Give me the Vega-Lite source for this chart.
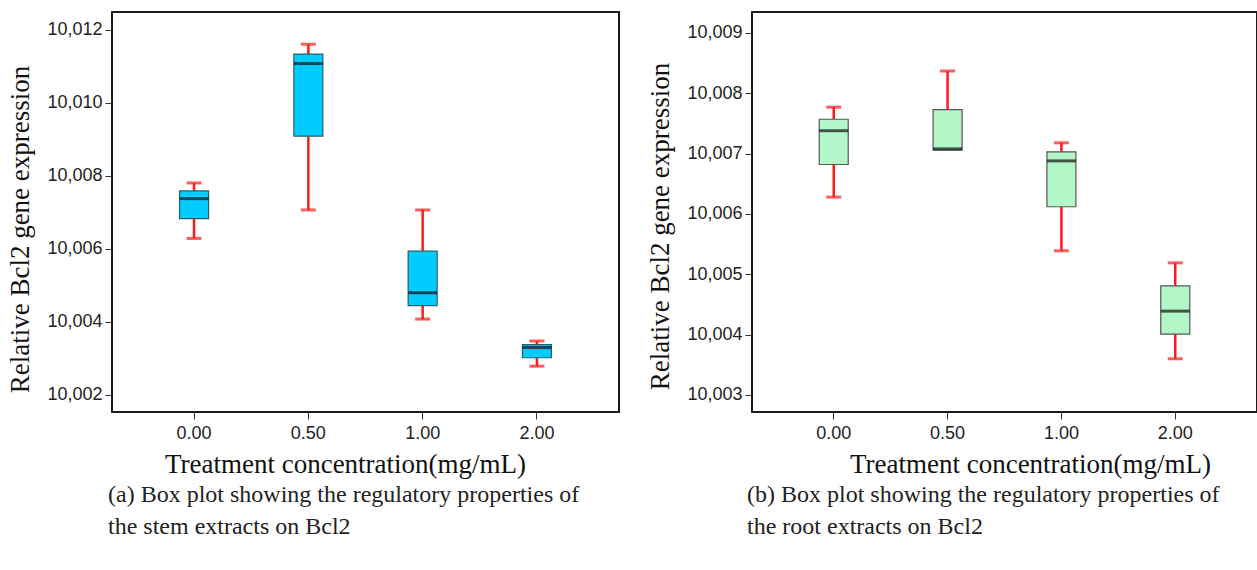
{
  "$schema": "https://vega.github.io/schema/vega-lite/v6.json",
  "padding": {"left": 5, "top": 11, "right": 0, "bottom": 0},
  "background": "white",
  "datasets": {
    "stemData": [
      {"conc": "0.00", "lo": 10.00629, "q1": 10.00683, "med": 10.00738, "q3": 10.00759, "hi": 10.00781},
      {"conc": "0.50", "lo": 10.00707, "q1": 10.00909, "med": 10.01108, "q3": 10.01134, "hi": 10.01161},
      {"conc": "1.00", "lo": 10.00408, "q1": 10.00445, "med": 10.0048, "q3": 10.00594, "hi": 10.00707},
      {"conc": "2.00", "lo": 10.00279, "q1": 10.00302, "med": 10.0033, "q3": 10.00338, "hi": 10.00348}
    ],
    "rootData": [
      {"conc": "0.00", "lo": 10.00628, "q1": 10.00682, "med": 10.00738, "q3": 10.00757, "hi": 10.00777},
      {"conc": "0.50", "lo": null, "q1": 10.00706, "med": 10.00708, "q3": 10.00773, "hi": 10.00837},
      {"conc": "1.00", "lo": 10.00539, "q1": 10.00612, "med": 10.00688, "q3": 10.00703, "hi": 10.00718},
      {"conc": "2.00", "lo": 10.0036, "q1": 10.00401, "med": 10.00439, "q3": 10.00481, "hi": 10.00519}
    ]
  },
  "config": {
    "view": {"stroke": "#1a1a1a", "strokeWidth": 2},
    "axis": {"grid": false, "domain": false, "tickColor": "#333", "labelColor": "#222", "titleColor": "#111", "labelFont": "Liberation Sans", "labelFontSize": 18, "titleFont": "Liberation Serif", "titleFontSize": 27, "titleFontWeight": "normal", "tickSize": 7},
    "axisY": {"labelPadding": 3, "titlePadding": 12},
    "axisX": {"labelPadding": 5, "titlePadding": 9, "labelAngle": 0},
    "title": {"font": "Liberation Serif", "fontSize": 24, "fontWeight": "normal", "color": "#222"}
  },
  "spacing": 25,
  "hconcat": [
    {
      "width": 507,
      "height": 400,
      "data": {"name": "stemData"},
      "title": {"text": ["(a) Box plot showing the regulatory properties of", "the stem extracts on Bcl2"], "orient": "bottom", "anchor": "start", "frame": "group", "offset": 6, "lineHeight": 32, "dx": -4},
      "encoding": {
        "x": {"field": "conc", "type": "nominal", "sort": null, "title": "Treatment concentration(mg/mL)",
          "scale": {"paddingOuter": 0.218, "paddingInner": 0},
          "axis": {"titleX": 233, "titleAlign": "center"}}
      },
      "layer": [
        {"mark": {"type": "rule", "color": "#ff1a1a", "strokeWidth": 2.5},
          "encoding": {"y": {"field": "q3", "type": "quantitative", "title": "Relative Bcl2 gene expression", "scale": {"domain": [10.001534, 10.012493], "nice": false, "zero": false},
            "axis": {"values": [10.002, 10.004, 10.006, 10.008, 10.01, 10.012], "labelExpr": "replace(format(datum.value, '.3f'), '.', ',')", "titleY": 217}},
            "y2": {"field": "hi"}}},
        {"mark": {"type": "rule", "color": "#ff1a1a", "strokeWidth": 2.5},
          "encoding": {"y": {"field": "lo", "type": "quantitative", "title": "Relative Bcl2 gene expression"}, "y2": {"field": "q1"}}},
        {"mark": {"type": "tick", "color": "#ff1a1a", "size": 15, "thickness": 3},
          "encoding": {"y": {"field": "hi", "type": "quantitative", "title": "Relative Bcl2 gene expression"}}},
        {"mark": {"type": "tick", "color": "#ff1a1a", "size": 15, "thickness": 3},
          "encoding": {"y": {"field": "lo", "type": "quantitative", "title": "Relative Bcl2 gene expression"}}},
        {"mark": {"type": "bar", "size": 29, "fill": "#00ccff", "stroke": "#2a5f6e", "strokeWidth": 1.2},
          "encoding": {"y": {"field": "q1", "type": "quantitative", "title": "Relative Bcl2 gene expression"}, "y2": {"field": "q3"}}},
        {"mark": {"type": "tick", "color": "#111", "size": 29, "thickness": 3},
          "encoding": {"y": {"field": "med", "type": "quantitative", "title": "Relative Bcl2 gene expression"}}}
      ]
    },
    {
      "width": 505,
      "height": 400,
      "data": {"name": "rootData"},
      "title": {"text": ["(b) Box plot showing the regulatory properties of", "the root extracts on Bcl2"], "orient": "bottom", "anchor": "start", "frame": "group", "offset": 6, "lineHeight": 32, "dx": -5},
      "encoding": {
        "x": {"field": "conc", "type": "nominal", "sort": null, "title": "Treatment concentration(mg/mL)",
          "scale": {"paddingOuter": 0.218, "paddingInner": 0},
          "axis": {"titleX": 278, "titleAlign": "center"}}
      },
      "layer": [
        {"mark": {"type": "rule", "color": "#ff1a1a", "strokeWidth": 2.5},
          "encoding": {"y": {"field": "q3", "type": "quantitative", "title": "Relative Bcl2 gene expression", "scale": {"domain": [10.002718, 10.009348], "nice": false, "zero": false},
            "axis": {"values": [10.003, 10.004, 10.005, 10.006, 10.007, 10.008, 10.009], "labelExpr": "replace(format(datum.value, '.3f'), '.', ',')", "titleY": 214}},
            "y2": {"field": "hi"}}},
        {"mark": {"type": "rule", "color": "#ff1a1a", "strokeWidth": 2.5},
          "encoding": {"y": {"field": "lo", "type": "quantitative", "title": "Relative Bcl2 gene expression"}, "y2": {"field": "q1"}}},
        {"mark": {"type": "tick", "color": "#ff1a1a", "size": 15, "thickness": 3},
          "encoding": {"y": {"field": "hi", "type": "quantitative", "title": "Relative Bcl2 gene expression"}}},
        {"mark": {"type": "tick", "color": "#ff1a1a", "size": 15, "thickness": 3},
          "encoding": {"y": {"field": "lo", "type": "quantitative", "title": "Relative Bcl2 gene expression"}}},
        {"mark": {"type": "bar", "size": 29, "fill": "#b3f7c9", "stroke": "#555", "strokeWidth": 1.2},
          "encoding": {"y": {"field": "q1", "type": "quantitative", "title": "Relative Bcl2 gene expression"}, "y2": {"field": "q3"}}},
        {"mark": {"type": "tick", "color": "#111", "size": 29, "thickness": 3},
          "encoding": {"y": {"field": "med", "type": "quantitative", "title": "Relative Bcl2 gene expression"}}}
      ]
    }
  ]
}
